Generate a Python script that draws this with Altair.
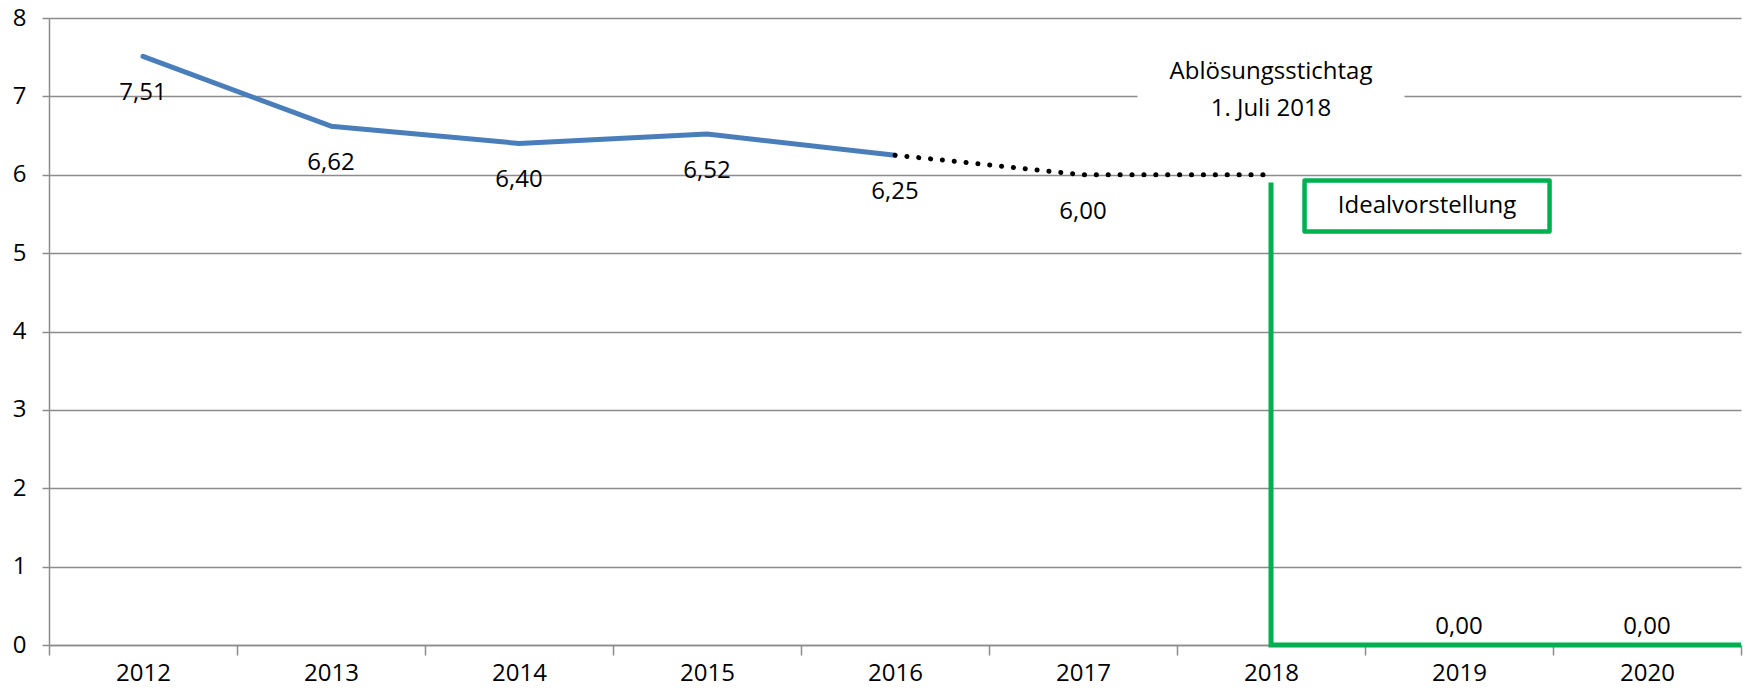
import altair as alt
import pandas as pd

FONT = "Open Sans"
BLUE = "#4a7ebb"
GREEN = "#00b050"
GRID = "#8c8c8c"
FS = 24

# Data
actual_years = [2012, 2013, 2014, 2015, 2016]
actual_values = [7.51, 6.62, 6.40, 6.52, 6.25]
proj_years = [2016, 2017, 2018]
proj_values = [6.25, 6.00, 6.00]
ideal_years = [2018, 2018, 2019, 2020, 2020.5]
ideal_values = [5.9, 0.0, 0.0, 0.0, 0.0]
label_years = [2012, 2013, 2014, 2015, 2016, 2017]
label_values = [7.51, 6.62, 6.40, 6.52, 6.25, 6.00]
zero_years = [2019, 2020]
zero_values = [0.0, 0.0]
x_axis_values = [2011.5 + 0.5 * i for i in range(19)]
y_axis_values = [0, 1, 2, 3, 4, 5, 6, 7, 8]

note_text = ["Ablösungsstichtag", "1. Juli 2018"]
note_pos = {"x": 2018, "y": 7.07}
ideal_text = "Idealvorstellung"
ideal_pos = {"x": 2018.83, "y": 5.6}


def fmt(v):
    return f"{v:.2f}".replace(".", ",")


actual_df = pd.DataFrame({"year": actual_years, "value": actual_values})
proj_df = pd.DataFrame({"year": proj_years, "value": proj_values})
ideal_df = pd.DataFrame({"year": ideal_years, "value": ideal_values,
                         "order": list(range(len(ideal_years)))})
label_df = pd.DataFrame({"year": label_years, "value": label_values,
                         "text": [fmt(v) for v in label_values]})
zero_df = pd.DataFrame({"year": zero_years, "value": zero_values,
                        "text": [fmt(v) for v in zero_values]})
note_df = pd.DataFrame({"year": [note_pos["x"]], "value": [note_pos["y"]],
                        "text": ["\n".join(note_text)]})
ideal_note_df = pd.DataFrame({"year": [ideal_pos["x"]], "value": [ideal_pos["y"]],
                              "text": [ideal_text]})

x_scale = alt.Scale(domain=[2011.5, 2020.5], nice=False, zero=False)
y_scale = alt.Scale(domain=[0, 8], nice=False)

x_enc = alt.X(
    "year:Q",
    scale=x_scale,
    axis=alt.Axis(
        title=None,
        values=x_axis_values,
        labelExpr="datum.value % 1 == 0 ? toString(datum.value) : ''",
        labelOverlap=False,
        labelFlush=False,
        tickOpacity={"condition": {"test": "datum.value % 1 != 0", "value": 1}, "value": 0},
        grid=False,
        domainColor=GRID,
        domainWidth=1.5,
        tickColor=GRID,
        tickWidth=1.5,
        tickSize=10,
        labelFont=FONT,
        labelFontSize=FS,
        labelColor="black",
        labelPadding=6,
    ),
)
y_enc = alt.Y(
    "value:Q",
    scale=y_scale,
    axis=alt.Axis(
        title=None,
        values=y_axis_values,
        format="d",
        grid=True,
        gridColor=GRID,
        gridWidth=1.5,
        domainColor=GRID,
        domainWidth=1.5,
        tickColor=GRID,
        tickWidth=1.5,
        tickSize=7,
        labelFont=FONT,
        labelFontSize=FS,
        labelColor="black",
        labelPadding=16,
    ),
)

actual_line = alt.Chart(actual_df).mark_line(
    color=BLUE, strokeWidth=5, strokeCap="round", strokeJoin="round"
).encode(x=x_enc, y=y_enc)

proj_line = alt.Chart(proj_df).mark_line(
    color="black", strokeWidth=5, strokeCap="round", strokeDash=[0.1, 11.8]
).encode(x="year:Q", y="value:Q")

ideal_line = alt.Chart(ideal_df).mark_line(
    color=GREEN, strokeWidth=5, strokeJoin="miter"
).encode(x="year:Q", y="value:Q", order="order:Q")

labels = alt.Chart(label_df).mark_text(
    font=FONT, fontSize=FS, color="black", baseline="middle", dy=37
).encode(x="year:Q", y="value:Q", text="text:N")

zero_labels = alt.Chart(zero_df).mark_text(
    font=FONT, fontSize=FS, color="black", baseline="middle", dy=-18
).encode(x="year:Q", y="value:Q", text="text:N")

note_box = alt.Chart(note_df).mark_point(
    shape="M-1,-0.34H1V0.34H-1Z", size=71289, filled=True, fill="white", opacity=1, strokeWidth=0
).encode(x="year:Q", y="value:Q")

note = alt.Chart(note_df).mark_text(
    font=FONT, fontSize=FS, color="black", baseline="middle", lineBreak="\n", lineHeight=37, dy=-19
).encode(x="year:Q", y="value:Q", text="text:N")

ideal_box = alt.Chart(ideal_note_df).mark_point(
    shape="M-1,-0.208H1V0.208H-1Z", size=60025, filled=True, fill="white",
    stroke=GREEN, strokeWidth=4.5, opacity=1, strokeJoin="round"
).encode(x="year:Q", y="value:Q")

ideal_label = alt.Chart(ideal_note_df).mark_text(
    font=FONT, fontSize=FS, color="black", baseline="middle"
).encode(x="year:Q", y="value:Q", text="text:N")

chart = alt.layer(
    actual_line, proj_line, ideal_line, labels, zero_labels,
    note_box, note, ideal_box, ideal_label
).properties(
    width=1692,
    height=627,
    padding={"left": 49, "top": 18, "right": 5, "bottom": 46},
    autosize=alt.AutoSizeParams(type="none"),
    background="white",
).configure_view(stroke=None)

chart.save("out.html", embed_options={"renderer": "svg", "actions": False})
